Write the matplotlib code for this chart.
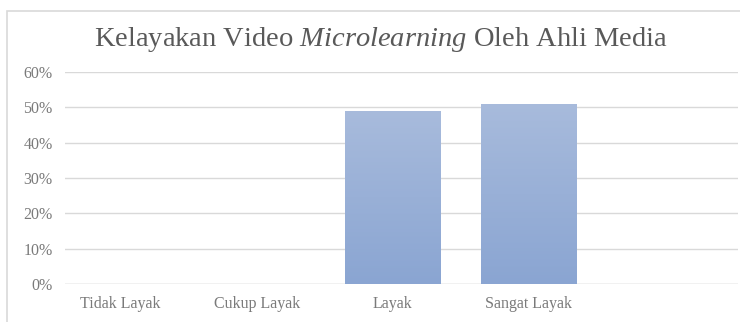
import matplotlib
matplotlib.use("Agg")
import matplotlib.pyplot as plt
import numpy as np
from matplotlib.patches import Rectangle
from matplotlib.ticker import PercentFormatter
from matplotlib.colors import LinearSegmentedColormap

plt.rcParams["mathtext.fontset"] = "custom"
plt.rcParams["mathtext.rm"] = "Liberation Serif"
plt.rcParams["mathtext.it"] = "Liberation Serif:italic"

categories = ["Tidak Layak", "Cukup Layak", "Layak", "Sangat Layak"]
values = [0, 0, 49, 51]
yticks = [0, 10, 20, 30, 40, 50, 60]

W, H = 740, 322
fig = plt.figure(figsize=(W / 100, H / 100), dpi=100)
fig.patch.set_facecolor("white")

# outer chart frame (cut at right/bottom)
fig.add_artist(Rectangle((7 / W, -0.1), 1.2, (H - 10.5) / H + 0.1, transform=fig.transFigure,
                         fill=False, edgecolor="#d9d9d9", linewidth=1.2))

left, right, top, bottom = 65, 738, 72, 284
ax = fig.add_axes([left / W, 1 - bottom / H, (right - left) / W, (bottom - top) / H])

x = np.arange(len(categories))
bars = ax.bar(x, values, width=0.70, color="#98afd7", zorder=2)

# vertical gradient inside bars
grad = np.linspace(0, 1, 256).reshape(-1, 1)
cmap = LinearSegmentedColormap.from_list("g", ["#8aa5d2", "#a8bbdc"])
for b in bars:
    if b.get_height() <= 0:
        continue
    x0, y0 = b.get_x(), b.get_y()
    im = ax.imshow(grad, extent=(x0, x0 + b.get_width(), y0, y0 + b.get_height()),
                   origin="lower", cmap=cmap, aspect="auto", zorder=2.1)
    im.set_clip_path(b)

ax.set_xlim(-0.41, 4.54)
ax.set_ylim(0, 60)
ax.set_yticks(yticks)
ax.yaxis.set_major_formatter(PercentFormatter(decimals=0))
ax.set_xticks(x)
ax.set_xticklabels(categories)
ax.grid(axis="y", color="#d9d9d9", linewidth=1.0, zorder=0)
for s in ["top", "right", "bottom", "left"]:
    ax.spines[s].set_visible(False)
ax.axhline(0, color="#d9d9d9", linewidth=1.0, zorder=1)
ax.tick_params(axis="both", length=0, colors="#7a7a7a")
ax.tick_params(axis="x", pad=9)
ax.tick_params(axis="y", pad=9)
for lab in ax.get_xticklabels() + ax.get_yticklabels():
    lab.set_family("Liberation Serif")
    lab.set_fontsize(11.5)

fig.text(381 / W, 1 - 40 / H, "Kelayakan Video $\\it{Microlearning}$ Oleh Ahli Media",
         ha="center", va="center", fontsize=20.5, color="#595959", family="Liberation Serif")

fig.savefig("out.png", dpi=100, facecolor="white")
